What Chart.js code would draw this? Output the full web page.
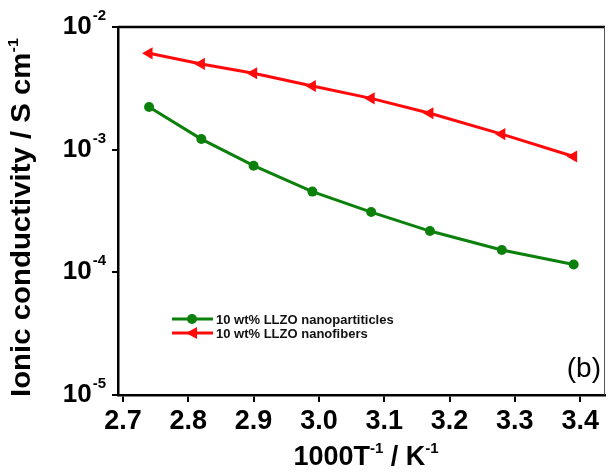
<!DOCTYPE html>
<html>
<head>
<meta charset="utf-8">
<script src="https://cdn.jsdelivr.net/npm/chart.js@4"></script>
<style>
html,body{margin:0;padding:0;background:#fff;}
#wrap{width:612px;height:475px;}
</style>
</head>
<body>
<div id="wrap"><canvas id="grafico" width="612" height="475"></canvas></div>
<script>
// 1000/T values (K^-1)
let invT = [2.74, 2.82, 2.90, 2.99, 3.08, 3.17, 3.28, 3.39];
// ionic conductivity, S cm^-1
let nanoparticles = [2.23e-3, 1.22e-3, 7.4e-4, 4.55e-4, 3.1e-4, 2.17e-4, 1.52e-4, 1.16e-4];
let nanofibers = [6.1e-3, 5.0e-3, 4.2e-3, 3.3e-3, 2.62e-3, 1.98e-3, 1.34e-3, 8.8e-4];

let xTicks = [2.7, 2.8, 2.9, 3.0, 3.1, 3.2, 3.3, 3.4];
let yTicks = [1e-5, 1e-4, 1e-3, 1e-2];
let yTickExp = ["-5", "-4", "-3", "-2"];

let labelParticles = "10 wt% LLZO nanopartiticles";
let labelFibers = "10 wt% LLZO nanofibers";

const FONT = "'Liberation Sans', Arial, sans-serif";
const GREEN = "#0b800b";
const RED = "#ff0a0a";

function toPoints(ys){
return invT.map((x,i)=>({x:x, y:ys[i]}));
}

function drawSup(ctx, parts, x, y){
// parts: [[text, isSup]], drawn left to right from x on baseline y
parts.forEach(p=>{
if(p[1]){
ctx.font = "bold 15px " + FONT;
ctx.fillText(p[0], x, y - 12);
}else{
ctx.font = "bold 27px " + FONT;
ctx.fillText(p[0], x, y);
}
x += ctx.measureText(p[0]).width;
});
return x;
}

function widthSup(ctx, parts, big, small){
let w = 0;
parts.forEach(p=>{
ctx.font = "bold " + (p[1] ? small : big) + "px " + FONT;
w += ctx.measureText(p[0]).width;
});
return w;
}

const extras = {
id: "extras",
afterDraw(chart){
const ctx = chart.ctx;
const a = chart.chartArea;
const ys = chart.scales.y;
ctx.save();

// frame: top and right
ctx.strokeStyle = "#000";
ctx.lineWidth = 2.5;
ctx.beginPath();
ctx.moveTo(a.left, a.top);
ctx.lineTo(a.right, a.top);
ctx.stroke();
ctx.strokeStyle = "#555";
ctx.lineWidth = 1;
ctx.beginPath();
ctx.moveTo(a.right - 0.5, a.top);
ctx.lineTo(a.right - 0.5, a.bottom);
ctx.stroke();

// y tick labels 10^n
ctx.fillStyle = "#000";
ctx.textBaseline = "alphabetic";
ctx.textAlign = "left";
yTicks.forEach((v,i)=>{
let py = ys.getPixelForValue(v);
ctx.font = "bold 15px " + FONT;
let ws = ctx.measureText(yTickExp[i]).width;
ctx.font = "bold 26px " + FONT;
let wb = ctx.measureText("10").width;
let x0 = 105 - ws - wb;
ctx.fillText("10", x0, py + 7);
ctx.font = "bold 15px " + FONT;
ctx.fillText(yTickExp[i], x0 + wb + 1, py - 7);
});

// x axis title
let xt = [["1000T", false], ["-1", true], [" / K", false], ["-1", true]];
let wx = widthSup(ctx, xt, 27, 15);
drawSup(ctx, xt, 366 - wx / 2, 465);

// y axis title, rotated and stretched along its length
let yt = [["Ionic conductivity / S cm", false], ["-1", true]];
let wy = widthSup(ctx, yt, 27, 15);
ctx.save();
ctx.translate(30, 397);
ctx.rotate(-Math.PI / 2);
ctx.scale((397 - 38) / wy, 1);
drawSup(ctx, yt, 0, 0);
ctx.restore();

// legend
let items = [[labelParticles, GREEN, "circle", 319], [labelFibers, RED, "triangle", 333]];
items.forEach(it=>{
let ly = it[3];
ctx.strokeStyle = it[1];
ctx.fillStyle = it[1];
ctx.lineWidth = 3;
ctx.beginPath();
ctx.moveTo(172, ly);
ctx.lineTo(213, ly);
ctx.stroke();
ctx.beginPath();
if(it[2] == "circle"){
ctx.arc(192, ly, 5, 0, Math.PI * 2);
}else{
ctx.moveTo(186, ly);
ctx.lineTo(197, ly - 6);
ctx.lineTo(197, ly + 6);
ctx.closePath();
}
ctx.fill();
ctx.fillStyle = "#111";
ctx.font = "bold 13px " + FONT;
ctx.textBaseline = "middle";
ctx.fillText(it[0], 216, ly + 1);
});

// panel letter
ctx.font = "28px " + FONT;
ctx.textAlign = "right";
ctx.textBaseline = "alphabetic";
ctx.fillStyle = "#000";
ctx.fillText("(b)", 601, 377);

ctx.restore();
}
};

let ctx = document.getElementById("grafico").getContext("2d");

window.miGrafico = new Chart(ctx, {

type: "line",

data: {
datasets: [
{
label: labelParticles,
data: toPoints(nanoparticles),
borderColor: GREEN,
backgroundColor: GREEN,
borderWidth: 3,
pointStyle: "circle",
pointRadius: 5,
pointBorderWidth: 0,
tension: 0
},
{
label: labelFibers,
data: toPoints(nanofibers),
borderColor: RED,
backgroundColor: RED,
borderWidth: 3,
pointStyle: "triangle",
pointRotation: -90,
pointRadius: 7,
pointBorderWidth: 0,
tension: 0
}
]
},

options: {
responsive: false,
animation: false,
layout: {padding: {top: 27, right: 1, left: 0, bottom: 0}},
plugins: {
legend: {display: false},
tooltip: {enabled: false}
},
scales: {
x: {
type: "linear",
min: 2.6924,
max: 3.438,
afterBuildTicks: s => { s.ticks = xTicks.map(v => ({value: v})); },
afterFit: s => { s.height = 80; },
grid: {display: true, drawOnChartArea: false, drawTicks: true, tickLength: 7, color: "#000", lineWidth: 2},
border: {display: true, color: "#000", width: 2.5},
ticks: {
color: "#000",
padding: 3,
maxRotation: 0,
font: {family: FONT, size: 27, weight: "bold"},
callback: v => v.toFixed(1)
}
},
y: {
type: "logarithmic",
min: 1e-5,
max: 1e-2,
afterBuildTicks: s => { s.ticks = yTicks.map(v => ({value: v})); },
afterFit: s => { s.width = 118; },
grid: {display: true, drawOnChartArea: false, drawTicks: true, tickLength: 6, color: "#000", lineWidth: 2},
border: {display: true, color: "#000", width: 2.5},
ticks: {
callback: () => ""
}
}
}
},

plugins: [extras]

});
</script>
</body>
</html>
